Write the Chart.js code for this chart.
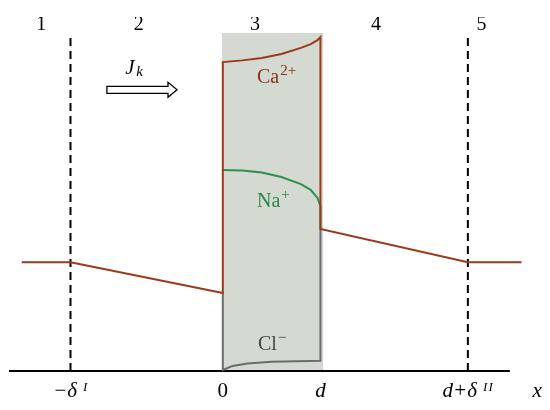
<!DOCTYPE html>
<html>
<head>
<meta charset="utf-8">
<script src="https://cdn.jsdelivr.net/npm/chart.js@4.4.0/dist/chart.umd.min.js"></script>
<style>
  html, body { margin: 0; padding: 0; background: #fff; }
  #wrap { width: 550px; height: 410px; }
</style>
</head>
<body>
<div id="wrap"><canvas id="profileChart"></canvas></div>
<script>
// x in units of membrane thickness d, y in arbitrary concentration units
const xDeltaI = -1.56;
const xDeltaII = 2.51;
const axisRange = [-2.19, 2.94];

const tickValues = [-1.56, 0, 1, 2.51];
const tickLabels = ['\u2212\u03B4 \u1D35', '0', 'd', 'd+\u03B4 \u1D35\u1D35'];
const axisName = 'x';
const axisNamePos = 3.22;

const regionPos = [-1.86, -0.86, 0.33, 1.57, 2.65];
const regionLabels = ['1', '2', '3', '4', '5'];

// Ca2+ profile
const caX = [-2.06, -1.56, 0, 0, 0.2, 0.4, 0.6, 0.8, 0.9, 0.97, 1, 1, 2.51, 3.06];
const caY = [32.2, 32.2, 23.1, 91.4, 91.9, 92.6, 93.8, 95.6, 96.7, 97.9, 98.8, 42, 32.2, 32.2];

// Na+ profile inside the membrane
const naX = [0, 0.2, 0.4, 0.6, 0.8, 0.9, 0.97, 1, 1];
const naY = [59.5, 59.3, 58.7, 57.4, 55.3, 53.6, 51.2, 48.8, 42];

// Cl- profile inside the membrane
const clX = [0, 0, 0.1, 0.25, 0.5, 1, 1];
const clY = [23.1, 0.3, 1.5, 2.2, 2.7, 3.0, 42];

// membrane band
const memX = [-0.01, 1.03];
const memY = [100, 100];

const SERIF = '"Liberation Serif", "Times New Roman", serif';
const BROWN = '#9a3a1c';
const GREEN = '#2f8f4e';
const GREY = '#6b6b6b';

function pts(xs, ys) {
    return xs.map((x, i) => ({ x: x, y: ys[i] }));
}

function vline(x) {
    return [{ x: x, y: 0 }, { x: x, y: 100 }];
}

const labelsPlugin = {
    id: 'labels',
    afterDatasetsDraw(chart) {
        const ctx = chart.ctx;
        const xs = chart.scales.x;
        const ys = chart.scales.y;
        const px = v => xs.getPixelForValue(v);
        const py = v => ys.getPixelForValue(v);

        function ion(base, sup, x, y, color, raise) {
            ctx.fillStyle = color;
            ctx.font = '20px ' + SERIF;
            ctx.textBaseline = 'alphabetic';
            ctx.textAlign = 'left';
            ctx.fillText(base, px(x), py(y));
            const w = ctx.measureText(base).width;
            ctx.font = '15px ' + SERIF;
            ctx.fillText(sup, px(x) + w + 1, py(y) - raise);
        }

        ctx.save();
        ion('Ca', '2+', 0.35, 85.2, '#8c321a', 8);
        ion('Na', '+', 0.35, 48.5, '#2a8a48', 8);
        ion('Cl', '\u2212', 0.36, 6.2, '#444', 8);

        // axis name at the right end, on the tick label line
        ctx.fillStyle = '#000';
        ctx.textAlign = 'center';
        ctx.font = 'italic 21px ' + SERIF;
        ctx.fillText(axisName, px(axisNamePos), ys.bottom + 26);
        ctx.textAlign = 'left';

        // J_k
        ctx.font = 'italic 21px ' + SERIF;
        ctx.fillText('J', px(-1.0), py(87.9));
        ctx.font = 'italic 15px ' + SERIF;
        ctx.fillText('k', px(-1.0) + 11, py(87.9) + 2);

        // hollow flux arrow
        const x0 = px(-1.187), x1 = px(-0.469), yc = py(83.2);
        const hx = x1 - 9;
        ctx.beginPath();
        ctx.moveTo(x0, yc - 3.5);
        ctx.lineTo(hx, yc - 3.5);
        ctx.lineTo(hx, yc - 7.5);
        ctx.lineTo(x1, yc);
        ctx.lineTo(hx, yc + 7.5);
        ctx.lineTo(hx, yc + 3.5);
        ctx.lineTo(x0, yc + 3.5);
        ctx.closePath();
        ctx.fillStyle = '#fff';
        ctx.fill();
        ctx.strokeStyle = '#000';
        ctx.lineWidth = 1.3;
        ctx.stroke();
        ctx.restore();
    }
};

const lineBase = { pointRadius: 0, tension: 0, fill: false, clip: false, borderWidth: 2 };

new Chart(document.getElementById('profileChart'), {
    type: 'line',
    data: {
        datasets: [
            Object.assign({}, lineBase, { label: 'Ca', data: pts(caX, caY), borderColor: BROWN }),
            Object.assign({}, lineBase, { label: 'Na', data: pts(naX, naY), borderColor: GREEN }),
            Object.assign({}, lineBase, { label: 'Cl', data: pts(clX, clY), borderColor: GREY }),
            Object.assign({}, lineBase, { label: 'dI', data: vline(xDeltaI), borderColor: '#000', borderDash: [8, 5] }),
            Object.assign({}, lineBase, { label: 'dII', data: vline(xDeltaII), borderColor: '#000', borderDash: [8, 5] }),
            Object.assign({}, lineBase, { label: 'axis', data: pts(axisRange, [0, 0]), borderColor: '#000' }),
            Object.assign({}, lineBase, {
                label: 'membrane', data: pts(memX, memY), borderWidth: 0,
                borderColor: 'rgba(0,0,0,0)', backgroundColor: '#d4d9d1', fill: 'origin'
            })
        ]
    },
    options: {
        responsive: true,
        maintainAspectRatio: false,
        animation: false,
        devicePixelRatio: 1,
        layout: { padding: { top: 17, left: 8, right: 5, bottom: -2 } },
        plugins: { legend: { display: false }, tooltip: { enabled: false } },
        scales: {
            x: {
                type: 'linear',
                min: -2.2,
                max: 3.3,
                grid: { display: false, drawTicks: false },
                border: { display: false },
                afterBuildTicks: axis => { axis.ticks = tickValues.map(v => ({ value: v })); },
                ticks: {
                    autoSkip: false,
                    maxRotation: 0,
                    padding: 10,
                    color: '#000',
                    callback: (value, index) => tickLabels[index],
                    font: ctx => ({
                        family: SERIF, size: 21, lineHeight: 1,
                        style: (ctx.tick && ctx.tick.value === 0) ? 'normal' : 'italic'
                    })
                }
            },
            xTop: {
                type: 'linear',
                position: 'top',
                min: -2.2,
                max: 3.3,
                grid: { display: false, drawTicks: false },
                border: { display: false },
                afterBuildTicks: axis => { axis.ticks = regionPos.map(v => ({ value: v })); },
                ticks: {
                    autoSkip: false,
                    maxRotation: 0,
                    padding: -2,
                    color: '#000',
                    callback: (value, index) => regionLabels[index],
                    font: { family: SERIF, size: 20, lineHeight: 1 }
                }
            },
            y: { display: false, min: 0, max: 100 }
        }
    },
    plugins: [labelsPlugin]
});
</script>
</body>
</html>
